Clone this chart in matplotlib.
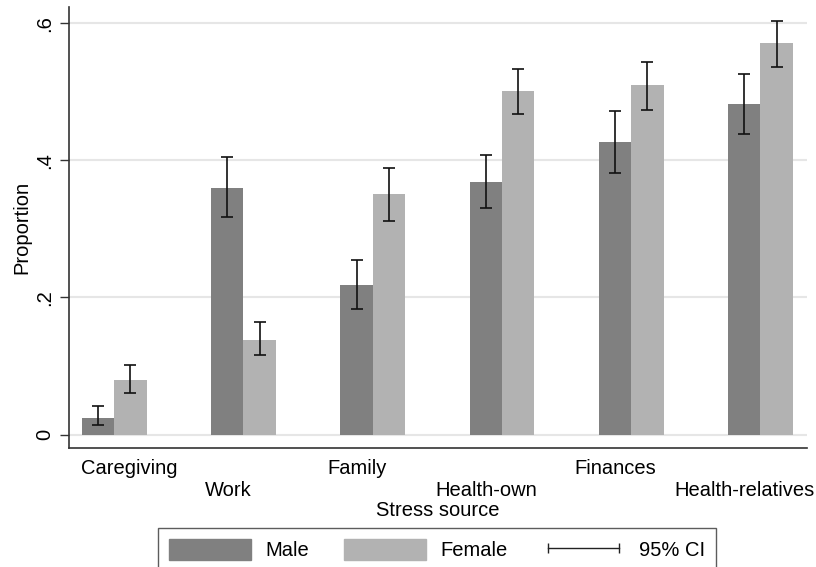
import numpy as np
import matplotlib
matplotlib.use("Agg")
import matplotlib.pyplot as plt
from matplotlib.patches import Patch
from matplotlib.lines import Line2D

plt.rcParams['font.family'] = ['Liberation Sans', 'DejaVu Sans']

categories = ["Caregiving", "Work", "Family", "Health-own", "Finances", "Health-relatives"]
male = [0.024, 0.360, 0.218, 0.368, 0.427, 0.483]
male_lo = [0.014, 0.318, 0.183, 0.330, 0.382, 0.439]
male_hi = [0.041, 0.405, 0.255, 0.408, 0.472, 0.526]
female = [0.079, 0.138, 0.351, 0.501, 0.510, 0.571]
female_lo = [0.060, 0.116, 0.312, 0.468, 0.474, 0.536]
female_hi = [0.101, 0.164, 0.389, 0.533, 0.543, 0.603]
yticks = [0, 0.2, 0.4, 0.6]
ytick_labels = ["0", ".2", ".4", ".6"]

c_male = "#808080"
c_female = "#b2b2b2"
FS = 14.5

fig = plt.figure(figsize=(8.16, 5.67), dpi=100)
ax = fig.add_axes([69/816, 1-448/567, (807-69)/816, (448-7)/567])

x = np.arange(len(categories))
w = 0.25
m = np.array(male); f = np.array(female)
ax.bar(x - w/2, m, width=w, color=c_male, zorder=2)
ax.bar(x + w/2, f, width=w, color=c_female, zorder=2)
ax.errorbar(x - w/2, m, yerr=[m - np.array(male_lo), np.array(male_hi) - m],
            fmt='none', ecolor='#111111', elinewidth=1.2, capsize=4, capthick=1.2, zorder=3)
ax.errorbar(x + w/2, f, yerr=[f - np.array(female_lo), np.array(female_hi) - f],
            fmt='none', ecolor='#111111', elinewidth=1.2, capsize=4, capthick=1.2, zorder=3)

xmin, xmax = -0.35, 5.36
ax.set_xlim(xmin, xmax)
ax.set_ylim(-0.0197, 0.624)

ax.set_yticks(yticks)
ax.set_yticklabels(ytick_labels, rotation=90, va='center', fontsize=FS)
ax.tick_params(axis='y', length=6.5, width=1, color='#333333', pad=4)
ax.grid(axis='y', color='#e6e6e6', lw=1.5, zorder=0)
ax.set_axisbelow(True)

tick_pos = x - 0.12
tick_pos[0] = x[0] + 0.12
labels = [c if i % 2 == 0 else "\n" + c for i, c in enumerate(categories)]
ax.set_xticks(tick_pos)
ax.set_xticklabels(labels, fontsize=FS, linespacing=1.2)
ax.tick_params(axis='x', length=0, pad=8)

ax.set_xlabel("Stress source", fontsize=FS, labelpad=1)
ax.set_ylabel("Proportion", fontsize=FS, labelpad=3)

for s in ['top', 'right']:
    ax.spines[s].set_visible(False)
for s in ['left', 'bottom']:
    ax.spines[s].set_color('#333333')
    ax.spines[s].set_linewidth(1.2)

handles = [Patch(color=c_male), Patch(color=c_female),
           Line2D([0], [0], color='#222222', lw=1, marker='|', markersize=7)]
leg = fig.legend(handles, ["Male", "Female", "95% CI"], loc='upper center',
                 bbox_to_anchor=(437/816, 1-528/567), ncol=3, fontsize=FS,
                 frameon=True, fancybox=False, edgecolor='#333333',
                 handlelength=4.1, handleheight=1.25, columnspacing=1.7,
                 handletextpad=0.72, borderpad=0.55, borderaxespad=0, numpoints=2)
leg.get_frame().set_linewidth(1)

fig.savefig("out.png", dpi=100)
